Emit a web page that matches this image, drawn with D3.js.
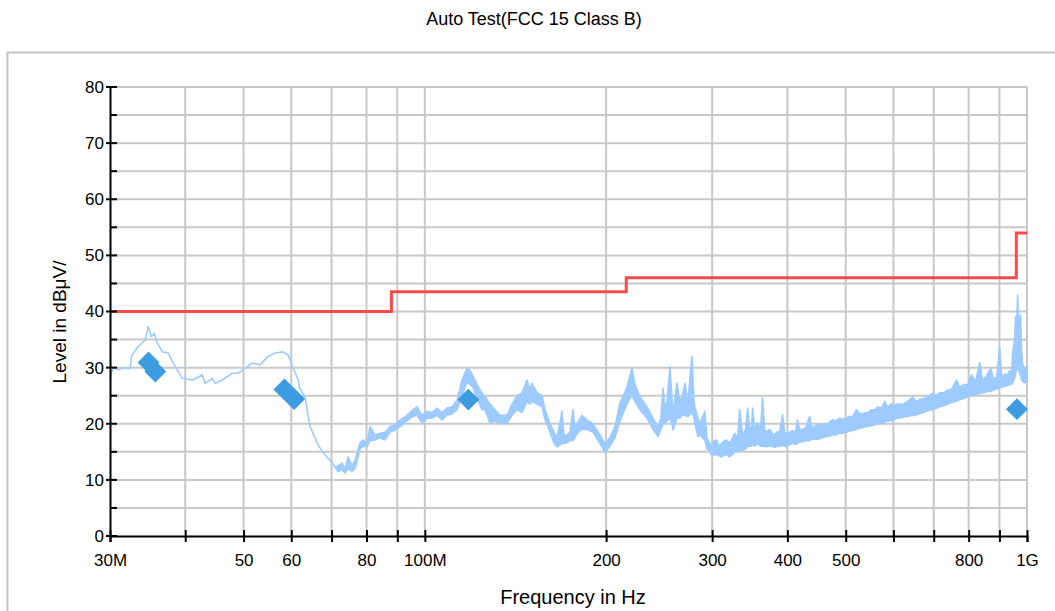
<!DOCTYPE html>
<html>
<head>
<meta charset="utf-8">
<script src="https://cdn.jsdelivr.net/npm/d3@7"></script>
<style>
  body { margin: 0; background: #fff; }
  svg { font-family: "Liberation Sans", Arial, sans-serif; }
</style>
</head>
<body>
<svg id="chart"></svg>
<script>
var w = 1055; // width of the page
var h = 611;  // height of the page

// x ticks (MHz) and their labels, blank ones are unlabelled
var xTicks = [30, 40, 50, 60, 70, 80, 90, 100, 200, 300, 400, 500, 600, 700, 800, 900, 1000];
var xTickLabels = ["30M", "", "50", "60", "", "80", "", "100M", "200", "300", "400", "500", "", "", "800", "", "1G"];
var yTicks = [0, 10, 20, 30, 40, 50, 60, 70, 80];
var yMinorTicks = [5, 15, 25, 35, 45, 55, 65, 75];

// limit line FCC 15 Class B (step after)
var limitFreq = [30, 88, 216, 960, 1000];
var limitLevel = [40, 43.5, 46, 54, 54];

// peak markers
var peakFreq = [34.76, 35.67, 58.45, 60.66, 118.1, 962.2];
var peakLevel = [30.9, 29.3, 26.1, 24.4, 24.3, 22.6];

var traceFreq = [30.0, 30.35, 30.93, 31.64, 32.37, 32.61, 33.37, 34.33, 34.72, 35.13, 35.53, 35.94, 36.64, 37.49, 38.21, 38.8, 39.55,
  41.09, 42.68, 43.18, 44.35, 44.86, 46.08, 47.87, 48.98, 50.3, 51.66, 53.27, 54.93, 56.41, 58.17, 59.3, 60.44, 61.61, 61.9,
  63.27, 64.47, 66.22, 67.76, 69.59, 70.93, 71.75, 72.85, 73.69, 74.54, 75.68, 76.56, 78.04, 78.94, 80.15, 81.08, 82.65,
  84.24, 85.87, 87.53, 89.22, 90.94, 93.41, 95.59, 97.05, 98.93, 100.84, 102.78, 104.76, 106.78, 108.84, 110.94, 113.08,
  115.26, 117.49, 118.85, 120.23, 122.07, 124.43, 125.87, 128.3, 130.77, 133.3, 136.9, 139.55, 142.24, 144.99, 147.79,
  149.5, 150.64, 153.55, 156.51, 158.32, 161.38, 163.87, 165.74, 168.94, 170.24, 172.18, 174.17, 176.18, 177.54, 178.89,
  182.34, 185.86, 190.19, 195.34, 199.11, 202.95, 206.87, 210.87, 216.58, 220.77, 223.32, 227.64, 233.81, 239.25, 243.87,
  246.69, 248.58, 250.47, 252.43, 255.3, 257.24, 258.24, 262.19, 265.23, 267.25, 270.35, 273.48, 277.67, 279.85, 280.88,
  284.13, 286.3, 291.82, 294.04, 297.28, 299.5, 302.4, 305.3, 307.6, 311.0, 314.6, 317.0, 320.7, 324.4, 326.9, 330.7, 333.2,
  337.1, 341.0, 343.6, 346.2, 348.9, 350.2, 352.9, 356.9, 361.1, 363.8, 366.6, 369.4, 373.6, 376.5, 380.8, 383.7, 388.2,
  392.7, 395.7, 398.7, 403.3, 408.0, 412.7, 415.8, 419.0, 423.9, 428.8, 435.4, 438.7, 443.8, 449.0, 455.8, 461.1, 466.4,
  470.0, 475.4, 480.9, 488.3, 494.0, 501.6, 507.4, 513.3, 521.2, 527.2, 533.5, 539.7, 543.8, 552.1, 558.5, 565.0, 573.6,
  580.3, 587.1, 595.9, 602.8, 609.8, 614.5, 624.0, 633.5, 645.8, 653.2, 663.2, 673.5, 683.8, 697.0, 705.1, 715.9, 727.0,
  738.2, 749.6, 764.0, 772.9, 784.9, 797.0, 809.2, 821.7, 834.3, 844.0, 856.9, 870.2, 880.3, 890.3, 900.6, 907.5, 918.0,
  928.6, 935.7, 942.9, 946.5, 953.7, 957.4, 961.0, 964.7, 968.4, 975.8, 979.5, 983.3, 990.8, 998.4, 1000];
var traceLow = [28.1, 30.0, 29.6, 30.0, 29.8, 32.2, 33.7, 34.9, 37.3, 35.5, 36.1, 34.4, 32.8, 32.6, 30.8, 29.6, 28.1,
  27.8, 28.7, 27.2, 28.1, 27.2, 27.8, 29.0, 29.0, 29.9, 30.8, 30.5, 32.0, 32.6, 32.8, 32.2, 29.9, 27.8, 26.5,
  24.6, 19.5, 16.6, 14.8, 13.5, 12.3, 11.5, 11.8, 11.2, 12.0, 11.5, 12.0, 15.5, 16.0, 15.9, 17.0, 17.1,
  17.5, 17.1, 18.5, 18.9, 19.5, 20.5, 21.3, 21.5, 20.1, 21.0, 21.0, 21.5, 20.7, 21.5, 21.8, 22.5,
  25.0, 27.5, 27.0, 26.5, 24.5, 22.5, 22.5, 20.1, 20.5, 20.0, 20.1, 21.5, 22.5, 22.0, 24.0,
  23.5, 24.0, 23.5, 23.0, 20.7, 18.5, 16.5, 15.9, 16.5, 16.5, 16.6, 17.0, 17.0, 17.5, 18.3,
  19.0, 19.0, 18.5, 16.5, 14.8, 16.0, 17.5, 20.5, 23.5, 25.0, 24.0, 22.5, 21.0, 19.0, 17.7,
  19.0, 20.0, 20.0, 20.5, 21.0, 20.0, 18.9, 21.0, 21.0, 21.5, 21.5, 21.3, 22.0, 21.0, 20.0,
  17.7, 18.0, 17.0, 15.5, 15.0, 14.4, 14.5, 14.5, 14.3, 14.1, 14.5, 14.5, 14.1, 14.5, 15.0, 15.0, 15.3,
  15.3, 15.5, 16.0, 16.0, 16.0, 16.5, 16.0, 16.5, 16.0, 16.0, 16.0, 15.9, 16.0, 16.0, 15.8, 15.9, 16.0,
  16.2, 16.0, 15.9, 16.3, 16.5, 16.3, 16.5, 16.7, 16.8, 17.0, 17.0, 17.2, 17.3, 17.2, 17.5, 17.6, 17.8,
  17.8, 18.0, 18.0, 18.3, 18.3, 18.5, 18.7, 18.8, 19.0, 19.2, 19.3, 19.5, 19.5, 19.7, 19.8, 20.0, 20.0,
  20.3, 20.5, 20.5, 20.8, 21.0, 21.0, 21.2, 21.3, 21.5, 21.5, 21.8, 22.0, 22.3, 22.5, 22.7, 23.0, 23.2,
  23.5, 23.8, 24.0, 24.3, 24.5, 24.8, 25.0, 25.2, 25.4, 25.5, 25.7, 25.8, 26.0, 26.2, 26.4, 26.5, 26.7,
  26.8, 27.0, 27.0, 27.3, 28.0, 29.0, 29.5, 30.0, 29.5, 28.5, 27.8, 27.5, 27.3, 27.5, 27.5];
var traceHigh = [28.1, 30.0, 29.6, 30.0, 29.8, 32.2, 33.7, 34.9, 37.3, 35.5, 36.1, 34.4, 32.8, 32.6, 30.8, 29.6, 28.1,
  27.8, 28.7, 27.2, 28.1, 27.2, 27.8, 29.0, 29.0, 29.9, 30.8, 30.5, 32.0, 32.6, 32.8, 32.2, 29.9, 27.8, 26.5,
  24.6, 19.5, 16.6, 14.8, 13.5, 12.3, 12.5, 13.0, 12.0, 14.1, 12.5, 13.5, 16.6, 17.1, 16.5, 19.5, 18.0,
  18.3, 18.5, 19.5, 19.8, 20.7, 21.5, 22.5, 23.0, 21.5, 22.2, 22.0, 22.8, 22.0, 22.8, 23.0, 24.2,
  27.8, 29.9, 29.5, 28.5, 27.0, 25.5, 24.8, 23.5, 22.5, 21.5, 21.5, 23.5, 25.0, 25.5, 27.8,
  26.0, 27.2, 25.5, 25.0, 22.5, 20.0, 18.5, 17.5, 22.2, 18.0, 18.0, 18.5, 22.5, 19.0, 20.0,
  21.5, 20.7, 20.0, 18.0, 16.5, 17.5, 19.5, 23.7, 26.5, 29.9, 27.0, 24.8, 23.0, 21.0, 19.5,
  21.0, 26.3, 23.0, 24.0, 30.2, 24.5, 22.0, 27.2, 24.0, 24.8, 27.2, 24.0, 32.0, 24.0, 23.0,
  21.0, 20.1, 22.2, 17.5, 16.5, 16.0, 17.0, 17.1, 16.0, 16.5, 17.0, 17.1, 16.5, 17.5, 18.3, 17.5, 22.5,
  18.0, 19.0, 22.8, 19.0, 19.5, 22.8, 19.0, 20.1, 19.0, 24.6, 19.0, 18.5, 19.0, 18.5, 18.0, 18.5, 18.5,
  21.6, 18.5, 18.2, 18.5, 18.8, 18.5, 20.7, 19.0, 19.0, 19.3, 21.3, 19.5, 19.5, 19.8, 19.8, 20.0, 20.0,
  20.3, 20.7, 20.5, 21.0, 20.8, 21.0, 21.3, 21.3, 22.5, 21.8, 21.8, 22.0, 22.0, 22.5, 22.5, 23.0, 22.8,
  24.0, 23.0, 23.5, 23.3, 23.5, 23.5, 23.5, 24.0, 24.8, 24.0, 24.3, 24.5, 24.8, 25.4, 25.0, 25.5, 25.5,
  26.0, 26.2, 27.8, 26.5, 27.0, 27.0, 28.7, 27.5, 30.9, 27.8, 28.5, 29.9, 28.0, 28.3, 33.5, 28.5, 28.8,
  28.8, 29.5, 29.0, 32.6, 35.0, 39.1, 37.0, 42.9, 38.0, 39.4, 33.0, 30.8, 29.5, 30.2, 29.5];

var svg = d3.select("#chart")
  .attr("width", w)
  .attr("height", h);

// outer panel
svg.append("rect")
  .attr("x", 7.5)
  .attr("y", 52.5)
  .attr("width", 1060)
  .attr("height", 600)
  .attr("fill", "none")
  .attr("stroke", "#c4c4c4")
  .attr("stroke-width", 2);

svg.append("text")
  .attr("x", 534)
  .attr("y", 25)
  .attr("text-anchor", "middle")
  .style("font-size", "18px")
  .text("Auto Test(FCC 15 Class B)");

var x = d3.scaleLog().domain([30, 1000]).range([110, 1027]);
var y = d3.scaleLinear().domain([0, 80]).range([536, 87]);

// grid
var grid = svg.append("g").attr("stroke", "#c8c8c8").attr("stroke-width", 2);
grid.selectAll(".vg")
  .data(xTicks.slice(1))
  .enter()
  .append("line")
  .attr("x1", d => x(d)).attr("x2", d => x(d))
  .attr("y1", y(80)).attr("y2", y(0));
grid.selectAll(".hg")
  .data(yTicks.slice(1).concat(yMinorTicks))
  .enter()
  .append("line")
  .attr("x1", x(30)).attr("x2", x(1000))
  .attr("y1", d => y(d)).attr("y2", d => y(d));

// limit line
var limitData = limitFreq.map((f, i) => [f, limitLevel[i]]);
svg.append("path")
  .datum(limitData)
  .attr("fill", "none")
  .attr("stroke", "#ff4a4a")
  .attr("stroke-width", 3)
  .attr("d", d3.line().curve(d3.curveStepAfter).x(d => x(d[0])).y(d => y(d[1])));

// trace, drawn as the band between its low and high edge
var traceData = traceFreq.map((f, i) => [f, traceLow[i], traceHigh[i]]);
svg.append("path")
  .datum(traceData)
  .attr("fill", "#9dcbff")
  .attr("stroke", "#9dcbff")
  .attr("stroke-width", 1.6)
  .attr("stroke-linejoin", "round")
  .attr("d", d3.area().x(d => x(d[0])).y0(d => y(d[1])).y1(d => y(d[2])));

// peaks as diamonds
svg.selectAll(".peak")
  .data(peakFreq.map((f, i) => [f, peakLevel[i]]))
  .enter()
  .append("path")
  .attr("class", "peak")
  .attr("d", d3.symbol(d3.symbolSquare, 240))
  .attr("transform", d => "translate(" + x(d[0]) + "," + y(d[1]) + ") rotate(45)")
  .attr("fill", "#3d9be0");

// y axis
var yAxis = svg.append("g")
  .attr("transform", "translate(" + x(30) + ",0)")
  .call(d3.axisLeft(y).tickValues(yTicks).tickSize(0).tickPadding(6));
yAxis.select(".domain").attr("stroke", "#000").attr("stroke-width", 2);
yAxis.selectAll("text").style("font-size", "17px").attr("fill", "#000").attr("font-family", null);
svg.append("g").selectAll("line")
  .data(yTicks.concat(yMinorTicks))
  .enter()
  .append("line")
  .attr("x1", d => yTicks.indexOf(d) >= 0 ? x(30) - 4 : x(30))
  .attr("x2", x(30) + 7)
  .attr("y1", d => y(d)).attr("y2", d => y(d))
  .attr("stroke", "#000").attr("stroke-width", 2);

// x axis
var xAxis = svg.append("g")
  .attr("transform", "translate(0," + y(0) + ")")
  .call(d3.axisBottom(x).tickValues(xTicks).tickSize(6)
    .tickFormat((d, i) => xTickLabels[i]).tickPadding(12));
xAxis.select(".domain").attr("stroke", "#000").attr("stroke-width", 2);
xAxis.selectAll(".tick line").attr("stroke", "#000").attr("stroke-width", 2).attr("y1", -6);
xAxis.selectAll("text").style("font-size", "17px").attr("fill", "#000").attr("font-family", null);

svg.append("text")
  .attr("x", 573)
  .attr("y", 604)
  .attr("text-anchor", "middle")
  .style("font-size", "20px")
  .text("Frequency in Hz");

svg.append("text")
  .attr("transform", "translate(66,322) rotate(-90)")
  .attr("text-anchor", "middle")
  .style("font-size", "19px")
  .text("Level in dBμV/");
</script>
</body>
</html>
